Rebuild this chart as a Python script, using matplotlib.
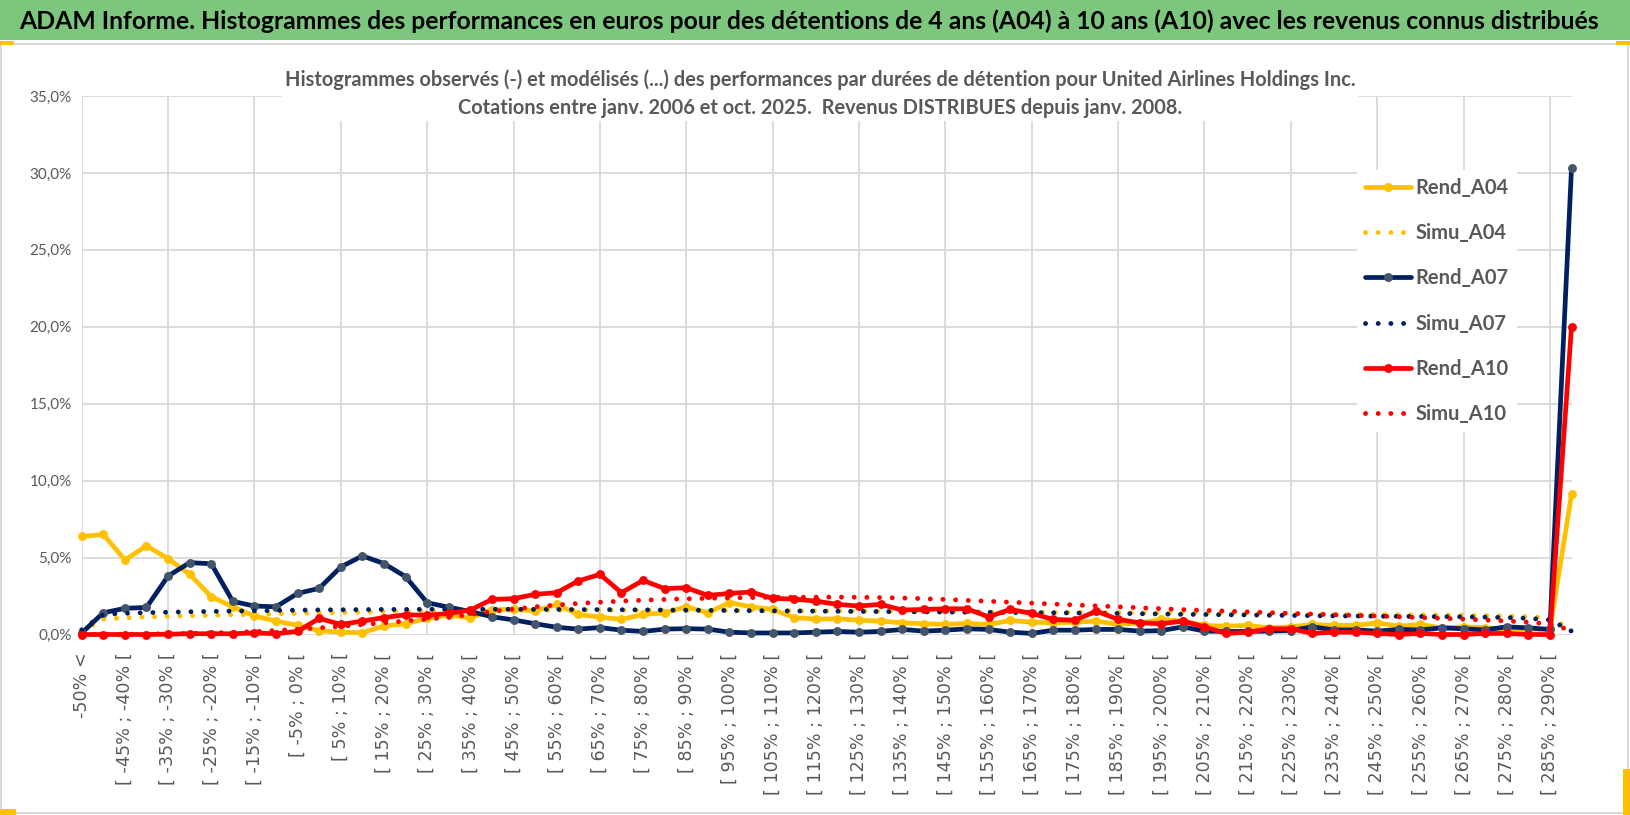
import matplotlib
matplotlib.use("Agg")
import matplotlib.pyplot as plt
import numpy as np
from matplotlib.ticker import FuncFormatter
from matplotlib.patches import Rectangle

# categories : classes de 5 % de performance
bornes = list(range(-50, 290, 5))
categories = ["-50% <"] + [f"[ {b}% ; {b + 5}% [" for b in bornes] + ["290% >="]

# histogrammes observes (en %)
rend_a04 = [6.37, 6.50, 4.85, 5.76, 4.93, 3.91, 2.46, 1.80, 1.20, 0.87,
            0.60, 0.25, 0.15, 0.12, 0.55, 0.70, 1.05, 1.25, 1.08, 1.60,
            1.65, 1.52, 1.96, 1.30, 1.13, 0.98, 1.30, 1.41, 1.80, 1.41,
            2.07, 1.80, 1.63, 1.10, 1.00, 1.02, 0.93, 0.87, 0.76, 0.70,
            0.65, 0.72, 0.65, 0.91, 0.80, 0.76, 0.80, 0.87, 0.65, 0.75,
            0.98, 0.87, 0.59, 0.54, 0.59, 0.43, 0.50, 0.65, 0.59, 0.59,
            0.76, 0.54, 0.65, 0.43, 0.50, 0.43, 0.37, 0.33, 0.33, 9.10]
rend_a07 = [0.10, 1.41, 1.70, 1.76, 3.80, 4.67, 4.60, 2.15, 1.85, 1.80,
            2.67, 3.00, 4.39, 5.11, 4.61, 3.76, 2.07, 1.77, 1.50, 1.15,
            0.95, 0.70, 0.47, 0.35, 0.45, 0.28, 0.20, 0.35, 0.38, 0.35,
            0.15, 0.10, 0.10, 0.10, 0.15, 0.20, 0.15, 0.20, 0.33, 0.22,
            0.28, 0.37, 0.33, 0.15, 0.07, 0.28, 0.28, 0.33, 0.33, 0.22,
            0.25, 0.50, 0.22, 0.20, 0.20, 0.22, 0.25, 0.50, 0.30, 0.30,
            0.22, 0.33, 0.30, 0.43, 0.37, 0.30, 0.50, 0.43, 0.33, 30.30]
rend_a10 = [0.00, 0.00, 0.00, 0.00, 0.02, 0.05, 0.05, 0.05, 0.10, 0.05,
            0.20, 1.05, 0.65, 0.87, 1.10, 1.28, 1.25, 1.37, 1.59, 2.28,
            2.33, 2.61, 2.72, 3.48, 3.91, 2.72, 3.52, 2.98, 3.04, 2.54,
            2.67, 2.76, 2.35, 2.30, 2.17, 1.96, 1.85, 1.96, 1.59, 1.63,
            1.67, 1.67, 1.15, 1.63, 1.37, 0.98, 0.93, 1.52, 0.98, 0.76,
            0.70, 0.87, 0.50, 0.07, 0.15, 0.37, 0.37, 0.07, 0.15, 0.15,
            0.07, 0.00, 0.07, 0.00, 0.00, 0.07, 0.07, 0.00, 0.00, 20.00]

# histogrammes modelises (en %)
simu_a04 = [0.20, 1.00, 1.08, 1.14, 1.18, 1.22, 1.25, 1.28, 1.31, 1.34,
            1.37, 1.40, 1.43, 1.46, 1.49, 1.51, 1.53, 1.55, 1.56, 1.57,
            1.58, 1.58, 1.58, 1.58, 1.58, 1.58, 1.57, 1.57, 1.56, 1.56,
            1.55, 1.55, 1.54, 1.54, 1.53, 1.53, 1.52, 1.51, 1.50, 1.50,
            1.49, 1.48, 1.47, 1.46, 1.45, 1.44, 1.44, 1.43, 1.42, 1.41,
            1.40, 1.39, 1.38, 1.37, 1.36, 1.35, 1.34, 1.33, 1.32, 1.31,
            1.30, 1.29, 1.28, 1.27, 1.25, 1.23, 1.20, 1.16, 1.10, 0.30]
simu_a07 = [0.30, 1.30, 1.38, 1.42, 1.45, 1.48, 1.50, 1.52, 1.54, 1.56,
            1.58, 1.60, 1.61, 1.62, 1.63, 1.63, 1.64, 1.64, 1.64, 1.64,
            1.64, 1.63, 1.63, 1.62, 1.62, 1.61, 1.60, 1.59, 1.58, 1.57,
            1.56, 1.55, 1.54, 1.53, 1.52, 1.51, 1.50, 1.49, 1.48, 1.47,
            1.46, 1.45, 1.44, 1.43, 1.42, 1.41, 1.40, 1.38, 1.37, 1.35,
            1.33, 1.31, 1.30, 1.28, 1.27, 1.25, 1.24, 1.22, 1.21, 1.20,
            1.19, 1.18, 1.17, 1.16, 1.15, 1.13, 1.10, 1.05, 0.95, 0.22]
simu_a10 = [0.00, 0.01, 0.02, 0.03, 0.05, 0.07, 0.10, 0.14, 0.19, 0.26,
            0.34, 0.43, 0.53, 0.64, 0.76, 0.88, 1.00, 1.12, 1.30, 1.50,
            1.65, 1.80, 1.92, 2.02, 2.10, 2.17, 2.23, 2.28, 2.32, 2.35,
            2.38, 2.40, 2.42, 2.42, 2.43, 2.43, 2.42, 2.40, 2.37, 2.33,
            2.28, 2.22, 2.16, 2.10, 2.04, 1.98, 1.92, 1.86, 1.80, 1.74,
            1.68, 1.62, 1.57, 1.52, 1.47, 1.42, 1.37, 1.33, 1.28, 1.24,
            1.20, 1.15, 1.10, 1.05, 1.00, 0.94, 0.88, 0.80, 0.68, 0.26]

titre = ("ADAM Informe. Histogrammes des performances en euros pour des détentions "
         "de 4 ans (A04) à 10 ans (A10) avec les revenus connus distribués")
sous_titre = ("Histogrammes observés (-) et modélisés (...) des performances par durées "
              "de détention pour United Airlines Holdings Inc.\n"
              "Cotations entre janv. 2006 et oct. 2025.  Revenus DISTRIBUES depuis janv. 2008.")

JAUNE = "#FFC000"
MARINE = "#002060"
ROUGE = "#FF0000"
GRIS = "#595959"
POLICE = ["Lato", "DejaVu Sans"]

W, H = 1630, 815
fig = plt.figure(figsize=(W / 100, H / 100), dpi=100)
fig.patch.set_facecolor("white")
rend = fig.canvas.get_renderer()


def ajuste(txt, largeur):
    # taille de police pour que le texte occupe largeur pixels
    w = txt.get_window_extent(rend).width
    txt.set_fontsize(txt.get_fontsize() * largeur / w)


# bandeau vert et cadre
fig.add_artist(Rectangle((0, 1 - 40 / H), 1, 40 / H, transform=fig.transFigure,
                         facecolor="#7DC67D", edgecolor="none", zorder=0))
fig.add_artist(Rectangle((1 / W, 2 / H), 1 - 3 / W, 1 - 44 / H - 2 / H,
                         transform=fig.transFigure, fill=False,
                         edgecolor="#D4D4D4", lw=1.3, zorder=0))
for (x0, y0, w, h) in [(0, 770, 14, 4), (W - 14, 770, 14, 4), (0, 0, 16, 6), (W - 7, 0, 7, 46)]:
    fig.add_artist(Rectangle((x0 / W, y0 / H), w / W, h / H, transform=fig.transFigure,
                             facecolor=JAUNE, edgecolor="none", zorder=5))

t = fig.text(19 / W, 1 - 21 / H, titre, ha="left", va="center", fontsize=18,
             weight="bold", family=POLICE, color="black")
ajuste(t, 1582)

ax = fig.add_axes([81.7 / W, 180.5 / H, (1571.5 - 81.7) / W, (634.5 - 96) / H])
x = np.arange(len(categories))

ligne = dict(lw=3.4, marker="o", ms=6.4, mew=0, clip_on=False,
             solid_joinstyle="round", solid_capstyle="round")
pointille = dict(lw=3.5, ls=(0, (0.01, 2.6)), dash_capstyle="round", clip_on=False)

ax.plot(x, rend_a04, color=JAUNE, mfc=JAUNE, label="Rend_A04", **ligne)
ax.plot(x, simu_a04, color=JAUNE, label="Simu_A04", **pointille)
ax.plot(x, rend_a07, color=MARINE, mfc="#44546A", label="Rend_A07", **ligne)
ax.plot(x, simu_a07, color=MARINE, label="Simu_A07", **pointille)
ax.plot(x, rend_a10, color=ROUGE, mfc=ROUGE, label="Rend_A10", **ligne)
ax.plot(x, simu_a10, color=ROUGE, label="Simu_A10", **pointille)

ax.set_xlim(0, len(categories) - 1)
ax.set_ylim(0, 35)
ax.set_yticks(np.arange(0, 36, 5))
ax.yaxis.set_major_formatter(FuncFormatter(lambda v, p: f"{v:.1f}".replace(".", ",") + "%"))
ax.yaxis.grid(True, color="#D9D9D9", lw=1.3)
for i in range(0, len(categories), 4):
    ax.axvline(i, color="#D9D9D9", lw=1.3, zorder=0)
ax.set_axisbelow(True)

ax.set_xticks(x[::2])
ax.set_xticklabels(categories[::2], rotation=90, fontsize=12.6, family="DejaVu Sans",
                   color=GRIS)
for lab in ax.get_yticklabels():
    lab.set_family(POLICE)
    lab.set_fontsize(11)
    lab.set_color(GRIS)
ax.tick_params(axis="both", length=0)
ax.tick_params(axis="x", pad=13)
ax.tick_params(axis="y", pad=7)
for s in ax.spines.values():
    s.set_visible(False)

st = fig.text(0.503, 1 - 94 / H, sous_titre, ha="center", va="center", multialignment="center",
              fontsize=14, weight="bold", family=POLICE, color=GRIS, linespacing=1.5,
              bbox=dict(facecolor="white", edgecolor="none", pad=2))
ajuste(st, 1074)

leg = ax.legend(loc="upper left", bbox_to_anchor=(1347 / W, 1 - 160 / H),
                bbox_transform=fig.transFigure, frameon=True, facecolor="white",
                edgecolor="none", framealpha=1, fancybox=False, borderpad=0.4,
                handlelength=2.3, handletextpad=0.2, labelspacing=1.25,
                prop=dict(family=POLICE, size=14.5, weight="bold"))
for txt in leg.get_texts():
    txt.set_color(GRIS)

fig.savefig("out.png", dpi=100)
